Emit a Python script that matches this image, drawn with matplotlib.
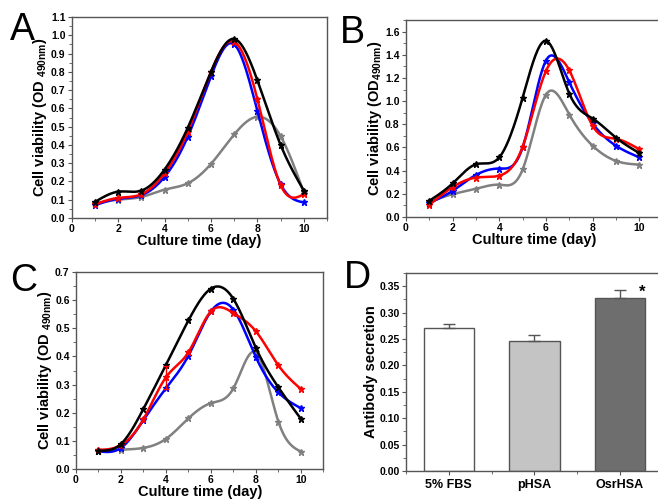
import numpy as np
import matplotlib
matplotlib.use("Agg")
import matplotlib.pyplot as plt
from matplotlib.ticker import MultipleLocator

plt.rcParams["font.family"] = ["Liberation Sans", "DejaVu Sans"]
plt.rcParams["font.weight"] = "bold"
plt.rcParams["mathtext.fontset"] = "custom"
plt.rcParams["mathtext.rm"] = "Liberation Sans:bold"
plt.rcParams["mathtext.it"] = "Liberation Sans:bold"
plt.rcParams["mathtext.bf"] = "Liberation Sans:bold"

# ---- data ----
days = [1, 2, 3, 4, 5, 6, 7, 8, 9, 10]

a_black = [0.088, 0.144, 0.150, 0.265, 0.494, 0.800, 0.980, 0.753, 0.400, 0.150]
a_red = [0.075, 0.110, 0.130, 0.245, 0.473, 0.800, 0.965, 0.650, 0.180, 0.130]
a_blue = [0.070, 0.105, 0.125, 0.225, 0.445, 0.775, 0.950, 0.585, 0.185, 0.085]
a_gray = [0.080, 0.100, 0.115, 0.155, 0.190, 0.296, 0.457, 0.554, 0.448, 0.140]

b_black = [0.140, 0.290, 0.455, 0.515, 1.030, 1.520, 1.065, 0.850, 0.685, 0.552]
b_red = [0.105, 0.258, 0.340, 0.357, 0.607, 1.260, 1.265, 0.787, 0.675, 0.584]
b_blue = [0.120, 0.226, 0.363, 0.418, 0.600, 1.350, 1.162, 0.807, 0.615, 0.515]
b_gray = [0.130, 0.197, 0.243, 0.278, 0.410, 1.056, 0.884, 0.615, 0.484, 0.452]

c_black = [0.065, 0.089, 0.214, 0.370, 0.528, 0.641, 0.604, 0.430, 0.290, 0.178]
c_red = [0.068, 0.085, 0.177, 0.326, 0.415, 0.560, 0.554, 0.489, 0.368, 0.284]
c_blue = [0.063, 0.075, 0.174, 0.287, 0.403, 0.560, 0.566, 0.397, 0.272, 0.216]
c_gray = [0.066, 0.069, 0.075, 0.107, 0.180, 0.234, 0.287, 0.414, 0.168, 0.062]

groups = ["5% FBS", "pHSA", "OsrHSA"]
secretion = [0.270, 0.247, 0.327]
secretion_err = [0.009, 0.010, 0.016]
bar_colors = ["white", "#c4c4c4", "#6e6e6e"]

line_colors = ["#808080", "#0000ff", "#ff0000", "#000000"]


def smooth(x, y, n=300):
    # natural cubic spline through the points
    x = np.asarray(x, float)
    y = np.asarray(y, float)
    k = len(x)
    h = np.diff(x)
    A = np.zeros((k, k))
    r = np.zeros(k)
    A[0, 0] = A[-1, -1] = 1
    for i in range(1, k - 1):
        A[i, i - 1] = h[i - 1]
        A[i, i] = 2 * (h[i - 1] + h[i])
        A[i, i + 1] = h[i]
        r[i] = 3 * ((y[i + 1] - y[i]) / h[i] - (y[i] - y[i - 1]) / h[i - 1])
    c = np.linalg.solve(A, r)
    xs = np.linspace(x[0], x[-1], n)
    idx = np.clip(np.searchsorted(x, xs) - 1, 0, k - 2)
    dx = xs - x[idx]
    b = (y[1:] - y[:-1]) / h - h * (2 * c[:-1] + c[1:]) / 3
    d = (c[1:] - c[:-1]) / (3 * h)
    ys = y[idx] + b[idx] * dx + c[idx] * dx ** 2 + d[idx] * dx ** 3
    return xs, ys


def style(ax):
    for s in ax.spines.values():
        s.set_color("#555555")
        s.set_linewidth(1.0)
    ax.tick_params(direction="out", length=3, width=0.8, labelsize=7.5, pad=1.5,
                   top=False, right=False, color="#555555")
    ax.tick_params(which="minor", direction="out", length=2, width=0.6,
                   top=False, right=False, color="#555555")
    for lab in ax.get_xticklabels() + ax.get_yticklabels():
        lab.set_fontweight("bold")


def curve_panel(ax, series, ymax, ymajor, yminor, ylabel, fmt):
    for ys, col in zip(series, line_colors):
        xs, ss = smooth(days, ys)
        ax.plot(xs, ss, color=col, lw=1.8)
        ax.plot(days, ys, ls="none", marker="*", ms=4.5, color=col)
    ax.set_xlim(0, 11)
    ax.set_ylim(0, ymax)
    ax.xaxis.set_minor_locator(MultipleLocator(1))
    ax.yaxis.set_major_locator(MultipleLocator(ymajor))
    ax.yaxis.set_minor_locator(MultipleLocator(yminor))
    ax.set_xticks([0, 2, 4, 6, 8, 10])
    ax.yaxis.set_major_formatter(plt.FuncFormatter(lambda v, p: fmt.format(v)))
    ax.set_xlabel("Culture time (day)", fontsize=10.5, fontweight="bold", labelpad=0)
    ax.set_ylabel(ylabel, fontsize=10.5, fontweight="bold", labelpad=1)
    style(ax)


fig = plt.figure(figsize=(6.58, 5.0), dpi=100)

axA = fig.add_axes([0.109, 0.564, 0.388, 0.402])
curve_panel(axA, [a_gray, a_blue, a_red, a_black], 1.1, 0.1, 0.05,
            r"Cell viability (OD $_{490nm}$)", "{:.1f}")

axB = fig.add_axes([0.617, 0.566, 0.39, 0.394])
curve_panel(axB, [b_gray, b_blue, b_red, b_black], 1.7, 0.2, 0.1,
            r"Cell viability (OD$_{490nm}$)", "{:.1f}")
axB.set_yticks([0, 0.2, 0.4, 0.6, 0.8, 1.0, 1.2, 1.4, 1.6])

axC = fig.add_axes([0.1155, 0.062, 0.376, 0.394])
curve_panel(axC, [c_gray, c_blue, c_red, c_black], 0.7, 0.1, 0.05,
            r"Cell viability (OD $_{490nm}$)", "{:.1f}")
axC.errorbar(4, c_red[3], yerr=0.04, color="#ff0000", lw=1, capsize=2, ls="none")

axD = fig.add_axes([0.617, 0.058, 0.39, 0.396])
xpos = np.arange(1, len(groups) + 1)
axD.bar(xpos, secretion, width=0.59, color=bar_colors, edgecolor="#555555", lw=1)
axD.errorbar(xpos, secretion, yerr=[[0, 0, 0], secretion_err], ls="none",
             color="#555555", lw=1, capsize=4)
axD.text(3.26, 0.338, "*", fontsize=12, fontweight="bold", ha="center", va="center")
axD.set_xlim(0.5, 3.5)
axD.set_ylim(0, 0.375)
axD.set_xticks(xpos)
axD.xaxis.set_minor_locator(MultipleLocator(0.5))
axD.yaxis.set_major_locator(MultipleLocator(0.05))
axD.yaxis.set_minor_locator(MultipleLocator(0.025))
axD.yaxis.set_major_formatter(plt.FuncFormatter(lambda v, p: "{:.2f}".format(v)))
axD.set_ylabel("Antibody secretion", fontsize=10.5, fontweight="bold", labelpad=1)
style(axD)
axD.set_xticklabels(groups, fontsize=9, fontweight="bold")
axD.tick_params(axis="x", pad=3)

for txt, x, y in [("A", 0.015, 0.94), ("B", 0.516, 0.934), ("C", 0.015, 0.438), ("D", 0.522, 0.444)]:
    fig.text(x, y, txt, fontsize=27, fontweight="normal", ha="left", va="center")

fig.savefig("out.png", dpi=100)
